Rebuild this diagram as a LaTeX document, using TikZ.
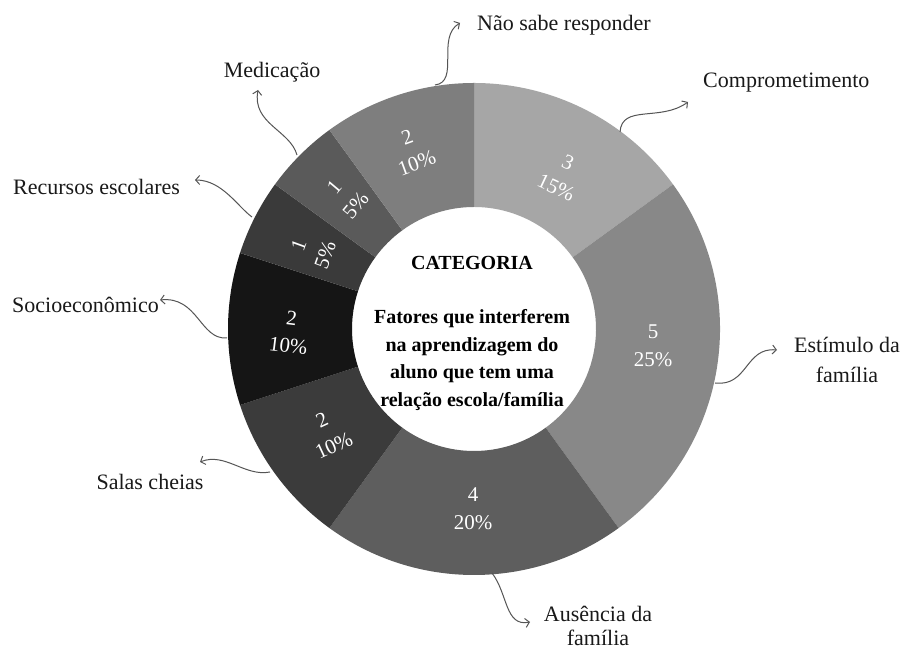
\documentclass[tikz,border=0pt]{standalone}
\usepackage{fontspec}
\setmainfont{Liberation Serif}
\usetikzlibrary{arrows.meta}
\definecolor{cComp}{HTML}{A6A6A6}
\definecolor{cEst}{HTML}{888888}
\definecolor{cAus}{HTML}{5E5E5E}
\definecolor{cSal}{HTML}{3B3B3B}
\definecolor{cSoc}{HTML}{151515}
\definecolor{cRec}{HTML}{3A3A3A}
\definecolor{cMed}{HTML}{5A5A5A}
\definecolor{cNao}{HTML}{7E7E7E}
\definecolor{cLine}{HTML}{555555}
\newcommand\donutslice[3]{\fill[#3] (#1:246) arc[start angle=#1,end angle=#2,radius=246] -- (#2:122) arc[start angle=#2,end angle=#1,radius=122] -- cycle;}
\begin{document}
\begin{tikzpicture}[x=1pt,y=1pt,
  conn/.style={draw=cLine, line width=1pt, -{Straight Barb[length=4pt,width=9pt]}},
  outer/.style={font=\fontsize{22}{30}\selectfont, text=black!90, inner sep=0pt, align=center},
  inval/.style={font=\fontsize{21}{28}\selectfont, text=white, align=center, inner sep=0pt},
  centre/.style={font=\bfseries\fontsize{20}{27.5}\selectfont, text=black, align=center, inner sep=0pt}
]
\useasboundingbox (0,0) rectangle (904,652);
\fill[white] (0,0) rectangle (904,652);
\begin{scope}[shift={(474,323)}]
  \donutslice{90}{36}{cComp}
  \donutslice{36}{-54}{cEst}
  \donutslice{-54}{-126}{cAus}
  \donutslice{-126}{-162}{cSal}
  \donutslice{-162}{-198}{cSoc}
  \donutslice{162}{144}{cRec}
  \donutslice{144}{126}{cMed}
  \donutslice{126}{90}{cNao}
\end{scope}
% values
\node[inval, rotate=20]  (v-nao) at (412,502) {2\\10\%};
\node[inval, rotate=-25] (v-comp) at (562,477) {3\\15\%};
\node[inval]             (v-est) at (653,306) {5\\25\%};
\node[inval]             (v-aus) at (473,143) {4\\20\%};
\node[inval, rotate=25]  (v-sal) at (328,219) {2\\10\%};
\node[inval, rotate=-7]  (v-soc) at (290,320) {2\\10\%};
\node[inval, rotate=70]  (v-rec) at (312,402) {1\\5\%};
\node[inval, rotate=50]  (v-med) at (345,456) {1\\5\%};
% centre
\node[centre] (cat) at (472,389) {CATEGORIA};
\node[centre] (fat) at (472,292) {Fatores que interferem\\na aprendizagem do\\aluno que tem uma\\relação escola/família};
% outer labels
\node[outer, anchor=west] (l-nao) at (477,627) {Não sabe responder};
\node[outer] (l-med) at (272,580) {Medicação};
\node[outer, anchor=west] (l-rec) at (13,465) {Recursos escolares};
\node[outer, anchor=west] (l-soc) at (12,347) {Socioeconômico};
\node[outer] (l-sal) at (150,170) {Salas cheias};
\node[outer, anchor=west] (l-comp) at (703,569) {Comprometimento};
\node[outer] (l-est) at (847,292) {Estímulo da\\família};
\node[outer, font=\fontsize{22}{24}\selectfont] (l-aus) at (598,26) {Ausência da\\família};
% connector ends
\coordinate (s-nao) at (435,567);  \coordinate (t-nao) at (460,629);
\coordinate (s-med) at (297,497);  \coordinate (t-med) at (258,562);
\coordinate (s-rec) at (252,435);  \coordinate (t-rec) at (195,472);
\coordinate (s-soc) at (227,314);  \coordinate (t-soc) at (160,352);
\coordinate (s-sal) at (270,180);  \coordinate (t-sal) at (200,190);
\coordinate (s-comp) at (620,520); \coordinate (t-comp) at (688,550);
\coordinate (s-est) at (715,269);  \coordinate (t-est) at (777,302);
\coordinate (s-aus) at (492,79);   \coordinate (t-aus) at (530,30);
\draw[conn] (s-nao) .. controls (460,570) and (436,615) .. (t-nao);
\draw[conn] (s-med) .. controls (290,522) and (252,528) .. (t-med);
\draw[conn] (s-rec) .. controls (238,445) and (222,472) .. (t-rec);
\draw[conn] (s-soc) .. controls (200,312) and (198,356) .. (t-soc);
\draw[conn] (s-sal) .. controls (245,175) and (225,200) .. (t-sal);
\draw[conn] (s-comp) .. controls (622,548) and (660,530) .. (t-comp);
\draw[conn] (s-est) .. controls (748,265) and (745,305) .. (t-est);
\draw[conn] (s-aus) .. controls (508,58) and (505,25) .. (t-aus);
\end{tikzpicture}
\end{document}
